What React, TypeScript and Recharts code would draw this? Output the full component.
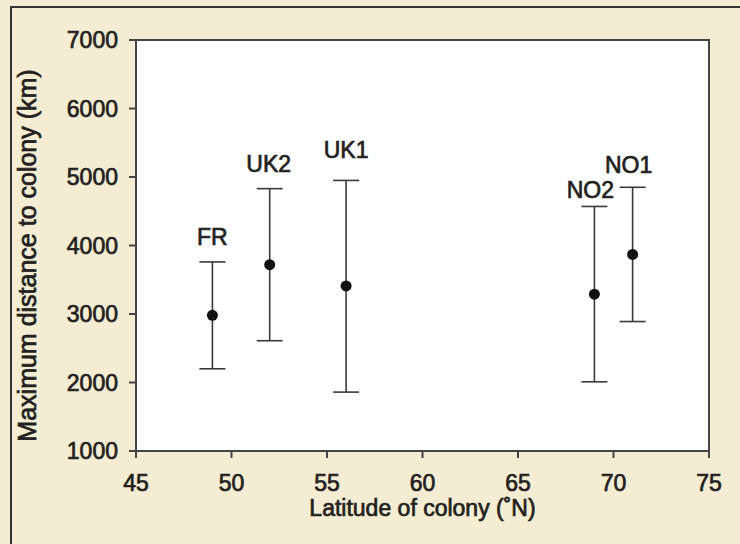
import { ScatterChart, Scatter, XAxis, YAxis, ErrorBar, ReferenceArea, Label } from 'recharts';

const COLONIES = ['FR', 'UK2', 'UK1', 'NO2', 'NO1'];
const LATITUDES = [49, 52, 56, 69, 71];
const MEANS = [2980, 3720, 3410, 3290, 3870];
const LOWS = [2200, 2610, 1860, 2010, 2890];
const HIGHS = [3760, 4830, 4950, 4570, 4850];
const X_TICKS = [45, 50, 55, 60, 65, 70, 75];
const Y_TICKS = [1000, 2000, 3000, 4000, 5000, 6000, 7000];

// label nudges above the top cap: [dx, gap]
const LABEL_NUDGE: Record<string, [number, number]> = {
  FR: [0, 17],
  UK2: [-1, 17],
  UK1: [0, 22],
  NO2: [-4, 8],
  NO1: [-4, 14],
};

const FONT = '"Liberation Sans", Arial, Helvetica, sans-serif';
const INK = '#231f20';
const LINE = '#444';
const FS = 23;
// a thin outline makes Arial read like the medium-weight face in the original
const heavy = { stroke: INK, strokeWidth: 0.7, paintOrder: 'stroke' as const };

const rows = COLONIES.map((name, i) => ({
  name,
  lat: LATITUDES[i],
  mean: MEANS[i],
  high: HIGHS[i],
  err: [MEANS[i] - LOWS[i], HIGHS[i] - MEANS[i]],
}));

const Dot = (props: any) => <circle cx={props.cx} cy={props.cy} r={5.5} fill="#111" />;

const NameTag = (props: any) => {
  const [dx, gap] = LABEL_NUDGE[props.payload.name] || [0, 16];
  return (
    <text x={props.cx + dx} y={props.cy - gap} textAnchor="middle" fontSize={FS} fontFamily={FONT} fill={INK} {...heavy}>
      {props.payload.name}
    </text>
  );
};

export default function App() {
  const tick = { fontSize: FS, fontFamily: FONT, fill: INK, ...heavy };
  return (
    <div style={{ position: 'absolute', left: 0, top: 0, width: 740, height: 544, overflow: 'hidden', background: '#f4edd3' }}>
      <div
        style={{
          position: 'absolute', left: 10, top: 6, width: 760, height: 560,
          borderTop: '2px solid #333', borderLeft: '2px solid #333',
        }}
      />
      <ScatterChart width={740} height={544} margin={{ top: 40, right: 31, bottom: 33, left: 0 }} style={{ position: 'absolute', left: 0, top: 0 }}>
        <ReferenceArea x1={45} x2={75} y1={1000} y2={7000} fill="#fff" fillOpacity={1} stroke={LINE} strokeWidth={2} />
        <XAxis
          type="number"
          dataKey="lat"
          domain={[45, 75]}
          ticks={X_TICKS}
          height={60}
          tickSize={7}
          tickMargin={17}
          tick={tick}
          stroke={LINE}
          strokeWidth={2}
          interval={0}
        >
          <Label
            content={(p: any) => (
              <text x={p.viewBox.x + p.viewBox.width / 2} y={516} textAnchor="middle" fontSize={FS} fontFamily={FONT} fill={INK} {...heavy}>
                Latitude of colony (˚N)
              </text>
            )}
          />
        </XAxis>
        <YAxis
          type="number"
          domain={[1000, 7000]}
          ticks={Y_TICKS}
          width={136}
          tickSize={7}
          tickMargin={11}
          tick={tick}
          stroke={LINE}
          strokeWidth={2}
          interval={0}
        >
          <Label
            content={(p: any) => {
              const cy = p.viewBox.y + p.viewBox.height / 2 + 10;
              return (
                <text x={36} y={cy} transform={`rotate(-90, 36, ${cy})`} textAnchor="middle" fontSize={25} fontFamily={FONT} fill={INK} {...heavy}>
                  Maximum distance to colony (km)
                </text>
              );
            }}
          />
        </YAxis>
        <Scatter data={rows} dataKey="mean" shape={Dot} isAnimationActive={false}>
          <ErrorBar dataKey="err" direction="y" width={13} stroke="#3a3a3a" strokeWidth={1.6} />
        </Scatter>
        <Scatter data={rows} dataKey="high" shape={NameTag} isAnimationActive={false} />
      </ScatterChart>
    </div>
  );
}
